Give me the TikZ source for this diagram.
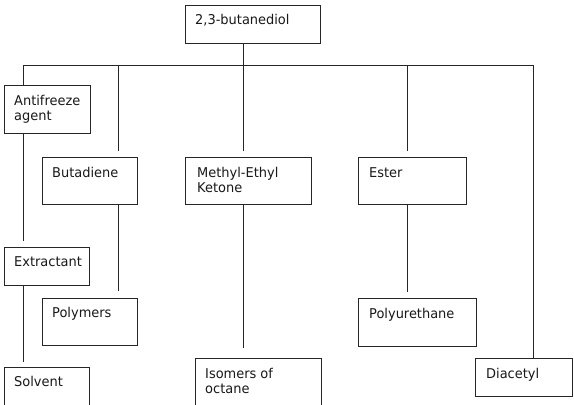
\documentclass[tikz,border=0pt]{standalone}
\usepackage{fontspec}
\setmainfont{DejaVu Sans}[FakeStretch=0.96]
\begin{document}
\begin{tikzpicture}[x=1pt,y=-1pt,
  box/.style={draw=black!85, line width=0.6pt, rectangle, inner sep=0pt, outer sep=0pt, anchor=north west},
  txt/.style={anchor=north west, inner sep=0pt, align=left, font=\fontsize{13.5}{15.5}\selectfont, text=black!90},
  ln/.style={draw=black!85, line width=0.6pt}]
\clip (0,0) rectangle (574,405);
\fill[white] (0,0) rectangle (574,405);
% boxes
\node[box, minimum width=135pt, minimum height=38pt] (top) at (185,5) {};
\node[box, minimum width=86pt, minimum height=48pt] (anti) at (4,85) {};
\node[box, minimum width=95pt, minimum height=47pt] (buta) at (42,157) {};
\node[box, minimum width=126pt, minimum height=47pt] (mek) at (185,157) {};
\node[box, minimum width=108pt, minimum height=47pt] (ester) at (358,157) {};
\node[box, minimum width=85pt, minimum height=38pt] (extr) at (4,247) {};
\node[box, minimum width=95pt, minimum height=47pt] (poly) at (42,298) {};
\node[box, minimum width=118pt, minimum height=48pt] (pu) at (358,298) {};
\node[box, minimum width=85pt, minimum height=45pt] (solv) at (4,367) {};
\node[box, minimum width=126pt, minimum height=55pt] (iso) at (195,358) {};
\node[box, minimum width=97pt, minimum height=38pt] (diac) at (475,358) {};
% texts
\node[txt] (topt) at ([shift={(10,9.5)}]top.north west) {2,3-butanediol};
\node[txt] (antit) at ([shift={(10,10)}]anti.north west) {Antifreeze\\agent};
\node[txt] (butat) at ([shift={(10,10)}]buta.north west) {Butadiene};
\node[txt] (mekt) at ([shift={(12,10)}]mek.north west) {Methyl-Ethyl\\Ketone};
\node[txt] (estert) at ([shift={(11,10)}]ester.north west) {Ester};
\node[txt] (extrt) at ([shift={(10,9.5)}]extr.north west) {Extractant};
\node[txt] (polyt) at ([shift={(10,9.5)}]poly.north west) {Polymers};
\node[txt] (put) at ([shift={(11,10)}]pu.north west) {Polyurethane};
\node[txt] (solvt) at ([shift={(10,9.5)}]solv.north west) {Solvent};
\node[txt] (isot) at ([shift={(10,10)}]iso.north west) {Isomers of\\octane};
\node[txt] (diact) at ([shift={(11,10)}]diac.north west) {Diacetyl};
% bus coordinates
\coordinate (j1) at (23,65);
\coordinate (j2) at (118,65);
\coordinate (j3) at (243,65);
\coordinate (j4) at (407,65);
\coordinate (j5) at (533,65);
\coordinate (e2) at (118,151);
\coordinate (e3) at (243,151);
\coordinate (e4) at (407,151);
\coordinate (e6) at (23,241);
\coordinate (e7) at (23,362);
\coordinate (e8) at (118,291);
\coordinate (e9) at (243,348);
\coordinate (e10) at (407,292);
% connectors
\draw[ln] (top.south -| j3) -- (j3);
\draw[ln] (j1) -- (j5);
\draw[ln] (j1) -- (anti.north -| j1);
\draw[ln] (j2) -- (e2);
\draw[ln] (j3) -- (e3);
\draw[ln] (j4) -- (e4);
\draw[ln] (j5) -- (diac.north -| j5);
\draw[ln] (anti.south -| j1) -- (e6);
\draw[ln] (extr.south -| j1) -- (e7);
\draw[ln] (buta.south -| j2) -- (e8);
\draw[ln] (mek.south -| j3) -- (e9);
\draw[ln] (ester.south -| j4) -- (e10);
\end{tikzpicture}
\end{document}
